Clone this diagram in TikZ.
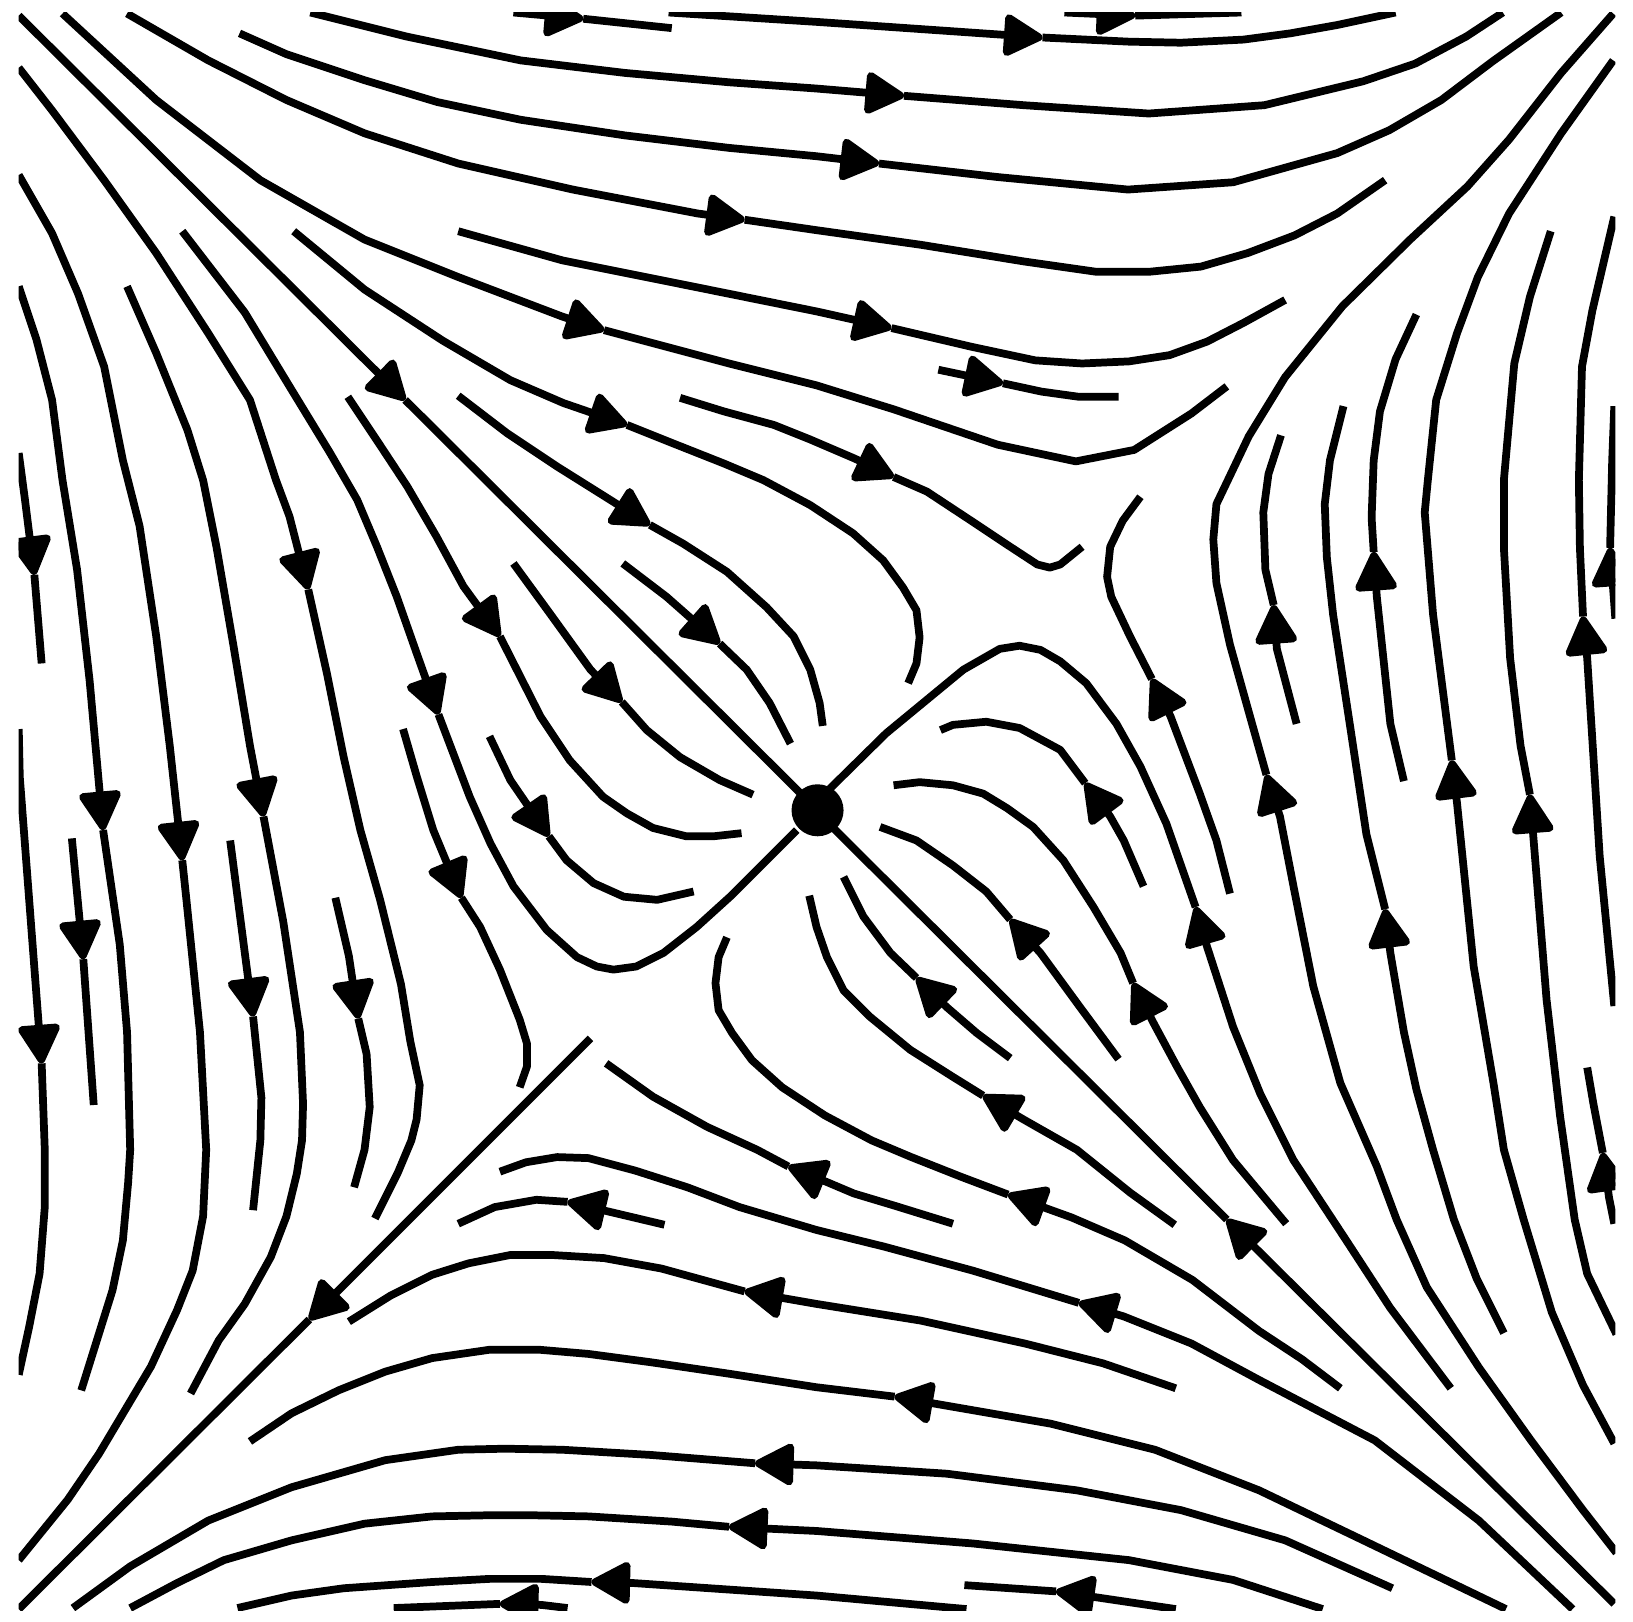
\documentclass[tikz,border=0pt]{standalone}
\usetikzlibrary{arrows.meta}
% one stream line: first part ends at the arrow tip, second part goes on from it
\newcommand{\orbit}[2]{%
  \draw[stream,-{Triangle[length=4.3mm,width=4.5mm,round]}] plot coordinates {#1};
  \draw[stream] plot coordinates {#2};}

\begin{document}
\begin{tikzpicture}[x=0.010414cm,y=-0.010414cm,
  stream/.style={line width=2.2pt,line join=round}]
\useasboundingbox (0,0) rectangle (1568,1557);
\begin{scope}
\clip (18,12) rectangle (1551,1546);
% diagonals
\orbit{(18,15) (389,384)}{(389,384) (785,778)}
\orbit{(1550,1540) (1178,1171)}{(1178,1171) (785,780)}
\orbit{(567,997) (297,1267)}{(297,1267) (18,1545)}
% top
\orbit{(493,12) (560,18)}{(560,18) (645,27)}
\orbit{(642,12) (784,21) (1001,36)}{(1001,36) (1084,40) (1134,41) (1194,38) (1239,32) (1284,24) (1340,12)}
\orbit{(1022,12) (1090,15)}{(1090,15) (1192,12)}
\orbit{(298,12) (390,35) (500,58) (600,70) (700,79) (784,85) (868,92)}{(868,92) (983,101) (1103,109) (1214,101) (1309,78) (1359,61) (1408,35) (1443,12)}
\orbit{(230,32) (275,52) (350,77) (420,98) (500,115) (600,130) (700,142) (784,150) (844,157)}{(844,157) (958,170) (1083,182) (1184,175) (1284,147) (1334,125) (1384,96) (1433,59) (1499,12)}
\orbit{(122,13) (200,58) (275,96) (350,128) (440,157) (550,182) (670,205) (715,211)}{(715,211) (784,221) (884,235) (983,251) (1053,261) (1103,261) (1153,256) (1198,243) (1243,226) (1284,205) (1330,173)}
\orbit{(440,222) (540,250) (650,272) (784,299) (856,315)}{(856,315) (933,333) (994,346) (1039,349) (1084,347) (1123,341) (1159,328) (1194,310) (1234,288)}
\orbit{(60,13) (150,96) (250,173) (350,230) (440,266) (540,304) (580,317)}{(580,317) (700,349) (784,370) (858,393) (958,427) (1033,443) (1089,432) (1144,397) (1178,371)}
\orbit{(901,355) (963,368)}{(963,368) (1000,376) (1036,381) (1074,381)}
\orbit{(282,222) (350,278) (425,327) (490,365) (541,387) (602,408)}{(602,408) (647,426) (695,445) (733,461) (778,485) (819,512) (848,538) (867,564) (880,586) (883,612) (880,637) (872,656)}
\orbit{(440,380) (487,416) (535,448) (586,480) (624,504)}{(624,504) (656,522) (698,549) (736,583) (762,611) (778,643) (787,675) (790,697)}
\orbit{(653,382) (695,395) (743,408) (778,422) (820,440) (858,458)}{(858,458) (890,472) (934,501) (967,523) (996,542) (1008,545) (1018,542) (1039,525)}
% left of the centre
\orbit{(598,541) (640,573) (691,618)}{(691,618) (717,643) (739,675) (759,714)}
\orbit{(493,541) (528,589) (567,643) (597,674)}{(597,674) (621,701) (653,727) (691,749) (723,763)}
\orbit{(334,381) (362,423) (391,467) (419,515) (445,563) (480,611)}{(480,611) (519,688) (547,730) (579,765) (602,781) (627,795) (659,803) (685,803) (712,800)}
\orbit{(175,222) (235,300) (278,371) (317,435) (343,480) (362,525) (381,573) (400,627) (421,686)}{(421,686) (451,765) (471,810) (493,851) (525,893) (554,919) (573,928) (589,931) (611,928) (637,915) (669,890) (701,861) (765,797)}
\orbit{(470,707) (490,749) (527,803)}{(527,803) (544,826) (570,848) (599,861) (631,864) (666,856)}
\orbit{(387,700) (400,745) (416,797) (443,862)}{(443,862) (461,890) (480,931) (499,979) (506,1002) (506,1024) (499,1044)}
% left band
\orbit{(18,65) (50,106) (100,173) (150,243) (200,320) (240,384) (265,461) (278,496) (296,566)}{(296,566) (314,647) (330,727) (346,797) (365,864) (385,945) (394,1000) (403,1042) (400,1075) (395,1095) (382,1126) (360,1170)}
\orbit{(18,435) (24,480) (33,552)}{(33,552) (40,637)}
\orbit{(18,275) (35,326) (50,384) (60,461) (74,547) (86,653) (99,797)}{(99,797) (115,907) (122,991) (125,1104) (123,1136) (118,1191) (108,1239) (93,1287) (78,1335)}
\orbit{(18,168) (50,224) (75,282) (100,352) (118,442) (134,505) (150,611) (163,716) (175,826)}{(175,826) (179,864) (192,991) (198,1104) (195,1168) (185,1220) (170,1258) (145,1312) (120,1354) (95,1396) (65,1440) (18,1498)}
\orbit{(122,275) (150,339) (180,413) (195,461) (208,526) (224,619) (240,716) (253,784)}{(253,784) (272,885) (288,991) (291,1060) (290,1095) (285,1127) (275,1168) (260,1207) (235,1252) (210,1287) (183,1338)}
\orbit{(18,700) (19,746) (40,1021)}{(40,1021) (43,1104) (43,1159) (38,1223) (28,1274) (18,1320)}
\orbit{(69,805) (80,921)}{(80,921) (90,1061)}
\orbit{(221,807) (243,976)}{(243,976) (251,1054) (250,1095) (243,1162)}
\orbit{(322,862) (335,918) (344,978)}{(344,978) (352,1012) (355,1063) (350,1104) (340,1140)}
% right of the centre
\orbit{(1181,858) (1168,807) (1152,762) (1124,688) (1106,652)}{(1106,652) (1085,611) (1067,573) (1063,554) (1066,525) (1078,500) (1095,477)}
\orbit{(1098,851) (1079,807) (1066,784) (1042,752)}{(1042,752) (1018,720) (979,699) (947,693) (915,696) (903,701)}
\orbit{(1235,1175) (1184,1114) (1152,1063) (1130,1024) (1108,983) (1088,944)}{(1088,944) (1076,915) (1050,871) (1021,826) (992,794) (967,776) (944,762) (915,754) (883,751) (858,754)}
\orbit{(1074,1017) (1037,967) (999,915) (970,883)}{(970,883) (947,856) (915,831) (880,807) (845,794)}
\orbit{(970,1016) (938,992) (909,967) (880,939)}{(880,939) (855,915) (829,880) (810,842)}
\orbit{(1128,1176) (1085,1145) (1034,1104) (983,1075) (944,1052)}{(944,1052) (915,1034) (874,1008) (835,976) (810,951) (794,919) (784,890) (777,860)}
\orbit{(1393,1333) (1335,1256) (1292,1190) (1242,1114) (1210,1050) (1184,986) (1159,909) (1148,871)}{(1148,871) (1120,791) (1095,736) (1072,695) (1043,656) (1018,635) (999,624) (979,620) (960,623) (925,643) (851,704) (792,762)}
% right band
\orbit{(1552,1491) (1520,1450) (1470,1383) (1420,1313) (1370,1236) (1341,1171) (1322,1120) (1287,1040) (1261,947) (1242,851) (1229,784) (1216,744)}{(1216,744) (1200,687) (1181,619) (1168,560) (1165,518) (1168,484) (1179,461) (1199,419) (1234,362) (1289,294) (1354,230) (1409,179) (1449,134) (1499,70) (1549,13)}
\orbit{(1245,695) (1226,623) (1223,581)}{(1223,581) (1215,547) (1213,492) (1218,455) (1230,418)}
\orbit{(1444,1280) (1418,1228) (1396,1171) (1376,1104) (1360,1046) (1348,991) (1335,915) (1330,873)}{(1330,873) (1312,801) (1296,695) (1280,590) (1274,535) (1272,484) (1277,442) (1290,390)}
\orbit{(1348,750) (1335,695) (1322,573) (1319,530)}{(1319,530) (1317,497) (1319,442) (1325,395) (1340,345) (1360,302)}
\orbit{(1550,1386) (1520,1330) (1490,1260) (1463,1171) (1444,1104) (1434,1040) (1415,928) (1399,771) (1394,730)}{(1394,730) (1376,590) (1368,492) (1371,461) (1379,384) (1399,320) (1419,266) (1449,205) (1499,128) (1549,58)}
\orbit{(1552,1281) (1524,1223) (1512,1171) (1498,1072) (1485,960) (1469,763)}{(1469,763) (1460,716) (1450,632) (1444,526) (1444,461) (1454,349) (1469,285) (1489,222)}
\orbit{(1550,966) (1536,822) (1524,632) (1520,592)}{(1520,592) (1517,526) (1516,461) (1519,352) (1529,298) (1550,208)}
\orbit{(1551,594) (1546,526)}{(1546,526) (1548,442) (1550,390)}
\orbit{(1550,1175) (1545,1150) (1539,1107)}{(1539,1107) (1530,1060) (1524,1025)}
% bottom
\orbit{(1270,1545) (1184,1517) (1084,1498) (934,1482) (784,1470) (700,1466)}{(700,1466) (645,1461) (565,1456) (515,1455) (465,1455) (415,1456) (350,1463) (280,1479) (215,1498) (170,1520) (125,1544)}
\orbit{(1337,1525) (1234,1479) (1134,1450) (1034,1431) (909,1415) (784,1407) (725,1405)}{(725,1405) (625,1397) (540,1392) (485,1391) (440,1392) (370,1402) (280,1428) (200,1460) (125,1504) (70,1544)}
\orbit{(1446,1545) (1309,1479) (1209,1431) (1109,1392) (1009,1367) (899,1348) (859,1341)}{(859,1341) (784,1332) (700,1319) (625,1308) (565,1300) (518,1296) (470,1296) (415,1304) (370,1317) (325,1335) (280,1357) (240,1384)}
\orbit{(1129,1333) (1059,1309) (984,1290) (884,1268) (784,1252) (715,1240)}{(715,1240) (635,1218) (580,1208) (530,1205) (490,1205) (450,1213) (415,1224) (375,1244) (335,1269)}
\orbit{(1510,1545) (1420,1460) (1320,1383) (1209,1325) (1144,1290) (1079,1264) (1036,1251)}{(1036,1251) (934,1220) (849,1197) (784,1181) (710,1159) (660,1140) (610,1124) (565,1112) (535,1111) (505,1116) (480,1125)}
\orbit{(1129,1545) (1014,1528)}{(1014,1528) (926,1522)}
\orbit{(928,1545) (784,1532) (608,1520) (568,1519)}{(568,1519) (520,1516) (470,1516) (415,1519) (330,1525) (280,1532) (228,1544)}
\orbit{(545,1544) (520,1541) (480,1540)}{(480,1540) (378,1544)}
\orbit{(638,1176) (545,1154)}{(545,1154) (515,1152) (475,1159) (440,1175)}
\orbit{(915,1175) (860,1158) (820,1146) (794,1135) (757,1120)}{(757,1120) (727,1104) (679,1082) (627,1053) (582,1021)}
\orbit{(1287,1333) (1250,1305) (1209,1278) (1145,1229) (1080,1191) (1029,1169) (968,1147)}{(968,1147) (923,1130) (875,1111) (837,1095) (792,1071) (751,1044) (722,1018) (703,992) (690,970) (687,944) (690,919) (698,900)}
\end{scope}
\fill (785,778) circle[radius=0.26cm];
\end{tikzpicture}
\end{document}
